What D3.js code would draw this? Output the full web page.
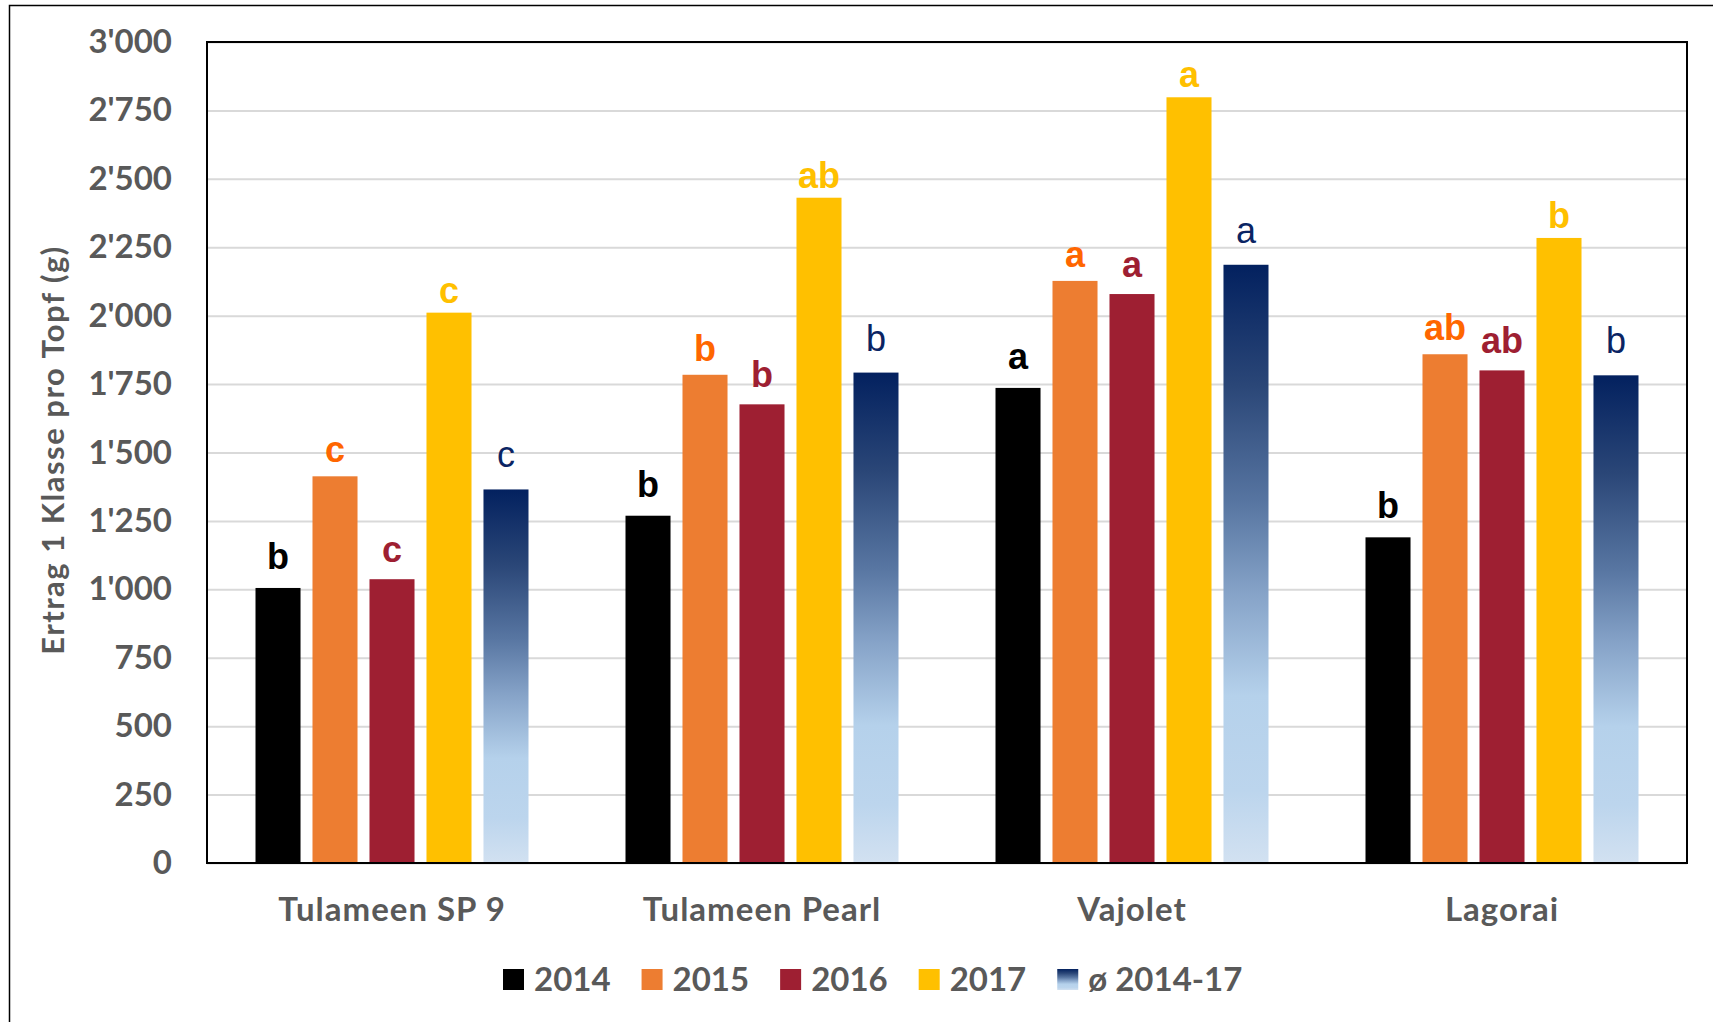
<!DOCTYPE html>
<html>
<head>
<meta charset="utf-8">
<script src="https://cdn.jsdelivr.net/npm/d3@7"></script>
<style>
  body { margin: 0; background: #fff; }
  svg { display: block; }
</style>
</head>
<body>
<div id="chart"></div>
<script>
// data
var categories = ["Tulameen SP 9", "Tulameen Pearl", "Vajolet", "Lagorai"];
var seriesNames = ["2014", "2015", "2016", "2017", "ø 2014-17"];
var v2014 = [1005, 1269, 1736, 1190];
var v2015 = [1413, 1784, 2127, 1859];
var v2016 = [1037, 1676, 2079, 1800];
var v2017 = [2011, 2431, 2798, 2284];
var vAvg  = [1365, 1792, 2186, 1782];
var l2014 = ["b", "b", "a", "b"];
var l2015 = ["c", "b", "a", "ab"];
var l2016 = ["c", "b", "a", "ab"];
var l2017 = ["c", "ab", "a", "b"];
var lAvg  = ["c", "b", "a", "b"];
var yTicks = [0, 250, 500, 750, 1000, 1250, 1500, 1750, 2000, 2250, 2500, 2750, 3000];

var values = [v2014, v2015, v2016, v2017, vAvg];
var letters = [l2014, l2015, l2016, l2017, lAvg];

// styles
var barFill = ["#000000", "#ED7D31", "#9E1F32", "#FFC000", "url(#avgGrad)"];
var labelFill = ["#000000", "#FF6600", "#9E1F32", "#FFC000", "#0A2463"];
var labelWeight = ["bold", "bold", "bold", "bold", "normal"];
var labelGap = [19, 14, 17, 10, 22];
var grey = "#595959";

var W = 1713, H = 1022;
var plot = {left: 207, top: 42, right: 1687, bottom: 863};

var svg = d3.select("#chart").append("svg")
  .attr("width", W)
  .attr("height", H);

var defs = svg.append("defs");
var grad = defs.append("linearGradient")
  .attr("id", "avgGrad")
  .attr("x1", "0").attr("y1", "0")
  .attr("x2", "0").attr("y2", "1");
grad.selectAll("stop")
  .data([
    {offset: "0%", color: "#03215F"},
    {offset: "20%", color: "#2A4677"},
    {offset: "40%", color: "#5876A2"},
    {offset: "55%", color: "#86A3C8"},
    {offset: "72%", color: "#B5D1EB"},
    {offset: "88%", color: "#BCD5ED"},
    {offset: "100%", color: "#D2E1F1"}
  ])
  .enter().append("stop")
  .attr("offset", function(d) { return d.offset; })
  .attr("stop-color", function(d) { return d.color; });

// outer frame
svg.append("rect")
  .attr("x", 9.5).attr("y", 5.5)
  .attr("width", W + 20).attr("height", H + 20)
  .attr("fill", "none")
  .attr("stroke", "#000")
  .attr("stroke-width", 1.5);

var x0 = d3.scaleBand()
  .domain(categories)
  .range([plot.left, plot.right])
  .padding(0);

var groupSpan = 273;
var x1 = d3.scaleBand()
  .domain(seriesNames)
  .range([0, groupSpan])
  .paddingInner(0.21)
  .paddingOuter(0);

var y = d3.scaleLinear()
  .domain([0, 3000])
  .range([plot.bottom, plot.top]);

var fmt = d3.formatLocale({decimal: ".", thousands: "'", grouping: [3], currency: ["", ""]}).format(",");

// gridlines
var grid = svg.append("g")
  .attr("transform", "translate(" + plot.left + ",0)")
  .call(d3.axisLeft(y).tickValues(yTicks).tickSize(-(plot.right - plot.left)).tickFormat(""));
grid.select(".domain").remove();
grid.selectAll("line").attr("stroke", "#D9D9D9").attr("stroke-width", 2);

// y tick labels
var yAxis = svg.append("g")
  .attr("transform", "translate(" + plot.left + ",0)")
  .call(d3.axisLeft(y).tickValues(yTicks).tickSize(0).tickPadding(35).tickFormat(fmt));
yAxis.select(".domain").remove();
yAxis.selectAll("text")
  .attr("fill", grey)
  .style("font-family", "Lato, 'Open Sans', sans-serif")
  .style("font-weight", "bold")
  .style("font-size", "33px");

// x category labels
var xAxis = svg.append("g")
  .attr("transform", "translate(0," + plot.bottom + ")")
  .call(d3.axisBottom(x0).tickSize(0).tickPadding(35));
xAxis.select(".domain").remove();
xAxis.selectAll("text")
  .attr("fill", grey)
  .style("font-family", "Lato, 'Open Sans', sans-serif")
  .style("font-weight", "bold")
  .style("font-size", "33px")
  .style("letter-spacing", "1px");

// bars
var offset = (x0.bandwidth() - groupSpan) / 2;
seriesNames.forEach(function(s, si) {
  var g = svg.append("g").attr("class", "series");
  var rows = categories.map(function(c, ci) {
    return {cat: c, v: values[si][ci], letter: letters[si][ci]};
  });
  g.selectAll("rect")
    .data(rows)
    .enter().append("rect")
    .attr("x", function(d) { return x0(d.cat) + offset + x1(s); })
    .attr("y", function(d) { return y(d.v); })
    .attr("width", x1.bandwidth())
    .attr("height", function(d) { return y(0) - y(d.v); })
    .attr("fill", barFill[si]);
  g.selectAll("text")
    .data(rows)
    .enter().append("text")
    .attr("x", function(d) { return x0(d.cat) + offset + x1(s) + x1.bandwidth() / 2; })
    .attr("y", function(d) { return y(d.v) - labelGap[si]; })
    .attr("text-anchor", "middle")
    .attr("fill", labelFill[si])
    .style("font-family", "'Liberation Sans', Arial, sans-serif")
    .style("font-weight", labelWeight[si])
    .style("font-size", "36px")
    .text(function(d) { return d.letter; });
});

// plot border
svg.append("rect")
  .attr("x", plot.left).attr("y", plot.top)
  .attr("width", plot.right - plot.left)
  .attr("height", plot.bottom - plot.top)
  .attr("fill", "none")
  .attr("stroke", "#000")
  .attr("stroke-width", 2);

// legend
var legend = svg.append("g").attr("class", "legend");
var lx = 503;
seriesNames.forEach(function(s, si) {
  legend.append("rect")
    .attr("x", lx).attr("y", 969)
    .attr("width", 21).attr("height", 21)
    .attr("fill", barFill[si]);
  var t = legend.append("text")
    .attr("x", lx + 31).attr("y", 991)
    .attr("fill", grey)
    .style("font-family", "Lato, 'Open Sans', sans-serif")
    .style("font-weight", "bold")
    .style("font-size", "33px")
    .text(s);
  lx += 31 + t.node().getComputedTextLength() + 31;
});

// y axis title
svg.append("text")
  .attr("transform", "translate(64,450) rotate(-90)")
  .attr("text-anchor", "middle")
  .attr("fill", grey)
  .style("font-family", "Lato, 'Open Sans', sans-serif")
  .style("font-weight", "bold")
  .style("font-size", "31px")
  .style("letter-spacing", "1.5px")
  .text("Ertrag 1 Klasse pro Topf (g)");
</script>
</body>
</html>
